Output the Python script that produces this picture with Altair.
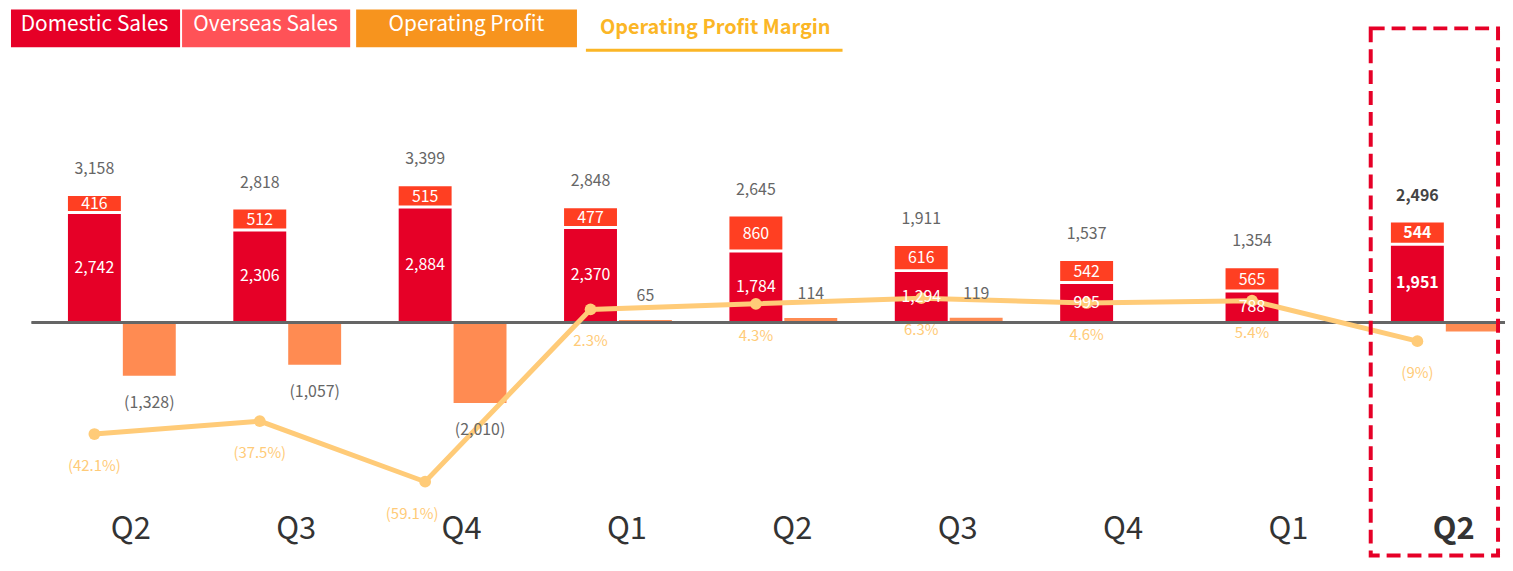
import altair as alt
import pandas as pd

# ---------------- data ----------------
quarters = ["Q2", "Q3", "Q4", "Q1", "Q2", "Q3", "Q4", "Q1", "Q2"]
domestic = [2742, 2306, 2884, 2370, 1784, 1294, 995, 788, 1951]
overseas = [416, 512, 515, 477, 860, 616, 542, 565, 544]
totals = [3158, 2818, 3399, 2848, 2645, 1911, 1537, 1354, 2496]
op_profit = [-1328, -1057, -2010, 65, 114, 119, None, None, -225]
op_labels = ["(1,328)", "(1,057)", "(2,010)", "65", "114", "119", "", "", ""]
margin_pct = [-42.1, -37.5, -59.1, 2.3, 4.3, 6.3, 4.6, 5.4, -9.0]
margin_labels = ["(42.1%)", "(37.5%)", "(59.1%)", "2.3%", "4.3%", "6.3%", "4.6%", "5.4%", "(9%)"]
highlight = [False, False, False, False, False, False, False, False, True]

legend_names = ["Domestic Sales", "Overseas Sales", "Operating Profit", "Operating Profit Margin"]

keys = [f"{i + 1}:{q}" for i, q in enumerate(quarters)]
df = pd.DataFrame({
    "key": keys,
    "domestic": domestic,
    "overseas": overseas,
    "total": totals,
    "op": op_profit,
    "op_label": op_labels,
    "margin": [m / 100 for m in margin_pct],
    "margin_label": margin_labels,
    "hl": highlight,
})
df["dom_mid"] = df["domestic"] / 2
df["ovs_top"] = df["domestic"] + df["overseas"]
df["ovs_mid"] = df["domestic"] + df["overseas"] / 2
df["s"] = "Sales"
df["o"] = "OP"

# ---------------- styles ----------------
FONT = "Noto Sans CJK JP"
C_DOM = "#E60027"
C_OVS = "#FF3F22"
C_OP = "#FF8B52"
C_LINE = "#FFCB78"
C_LEG_OVS = "#FF5257"
C_LEG_OP = "#F7941E"
C_LEG_MARGIN = "#FBB626"

bar_scale = alt.Scale(domain=[-4350, 7809], nice=False, zero=False)
pct_scale = alt.Scale(domain=[-0.645, 1.092], nice=False, zero=False)

x_enc = alt.X(
    "key:N",
    sort=keys,
    title=None,
    scale=alt.Scale(paddingInner=0.348, paddingOuter=0.128, align=0.852, round=False),
    axis=alt.Axis(
        labelExpr="split(datum.value, ':')[1]",
        labelFontSize=31,
        labelFont=FONT,
        labelColor="#333333",
        labelFontWeight=alt.expr("datum.value == '9:Q2' ? 'bold' : 'normal'"),
        labelPadding=18,
        labelOffset=9,
        labelAngle=0,
        domain=False,
        ticks=False,
        grid=False,
    ),
)
off_scale = alt.Scale(domain=["Sales", "OP"], paddingInner=0.036, paddingOuter=0, round=False)
xo_s = alt.XOffset("s:N", scale=off_scale)
xo_o = alt.XOffset("o:N", scale=off_scale)

base = alt.Chart(df)

dom_bars = base.mark_bar(color=C_DOM).encode(
    x=x_enc, xOffset=xo_s,
    y=alt.Y("domestic:Q", scale=bar_scale, axis=None), y2=alt.datum(0),
)
ovs_bars = base.mark_bar(color=C_OVS).encode(
    x=x_enc, xOffset=xo_s,
    y=alt.Y("domestic:Q", scale=bar_scale, axis=None), y2="ovs_top:Q",
)
gap = base.mark_tick(color="white", thickness=3, size=56, opacity=1).encode(
    x=x_enc, xOffset=xo_s,
    y=alt.Y("domestic:Q", scale=bar_scale, axis=None),
)
op_bars = base.transform_filter("isValid(datum.op)").mark_bar(color=C_OP).encode(
    x=x_enc, xOffset=xo_o,
    y=alt.Y("op:Q", scale=bar_scale, axis=None), y2=alt.datum(0),
)
zero_rule = base.mark_rule(color="#666666", strokeWidth=2.5).encode(
    y=alt.Y(datum=0, scale=bar_scale, axis=None)
)

bold_expr = alt.expr("datum.hl ? 'bold' : 'normal'")

total_text = base.mark_text(
    font=FONT, fontSize=16, dy=-27, baseline="middle",
    fontWeight=bold_expr, color=alt.expr("datum.hl ? '#444444' : '#666666'"),
).encode(
    x=x_enc, xOffset=xo_s,
    y=alt.Y("total:Q", scale=bar_scale, axis=None),
    text=alt.Text("total:Q", format=","),
)
dom_text = base.mark_text(
    font=FONT, fontSize=16, baseline="middle", color="white", fontWeight=bold_expr,
).encode(
    x=x_enc, xOffset=xo_s,
    y=alt.Y("dom_mid:Q", scale=bar_scale, axis=None),
    text=alt.Text("domestic:Q", format=","),
)
ovs_text = base.mark_text(
    font=FONT, fontSize=16, baseline="middle", color="white", fontWeight=bold_expr,
).encode(
    x=x_enc, xOffset=xo_s,
    y=alt.Y("ovs_mid:Q", scale=bar_scale, axis=None),
    text=alt.Text("overseas:Q", format=","),
)
op_text = base.transform_filter("datum.op_label != ''").mark_text(
    font=FONT, fontSize=16, baseline="middle", color="#666666",
    dy=alt.expr("datum.op < 0 ? 27 : -24"),
).encode(
    x=x_enc, xOffset=xo_o,
    y=alt.Y("op:Q", scale=bar_scale, axis=None),
    text="op_label:N",
)

margin_line = base.mark_line(color=C_LINE, strokeWidth=5).encode(
    x=x_enc, xOffset=xo_s,
    y=alt.Y("margin:Q", scale=pct_scale, axis=None),
)
margin_pts = base.mark_circle(color=C_LINE, size=140, opacity=1).encode(
    x=x_enc, xOffset=xo_s,
    y=alt.Y("margin:Q", scale=pct_scale, axis=None),
)
margin_text = base.mark_text(
    font=FONT, fontSize=15, baseline="middle", color=C_LINE, dy=32,
    dx=alt.expr("datum.margin < -0.5 ? -13 : 0"),
).encode(
    x=x_enc, xOffset=xo_s,
    y=alt.Y("margin:Q", scale=pct_scale, axis=None),
    text="margin_label:N",
)

# ---------------- custom legend & highlight box ----------------
one = alt.Chart(pd.DataFrame({"n": [0]}))


def leg_box(x0, x1, color, label, cx):
    r = one.mark_rect(color=color).encode(
        x=alt.value(x0), x2=alt.value(x1), y=alt.value(0), y2=alt.value(38)
    )
    t = one.mark_text(font=FONT, fontSize=21, color="white", baseline="middle").encode(
        x=alt.value(cx), y=alt.value(16), text=alt.value(label)
    )
    return [r, t]


legend_layers = []
legend_layers += leg_box(-21, 149, C_DOM, legend_names[0], 63)
legend_layers += leg_box(151, 320, C_LEG_OVS, legend_names[1], 235)
legend_layers += leg_box(326, 548, C_LEG_OP, legend_names[2], 437)
legend_layers.append(
    one.mark_text(font=FONT, fontSize=20, fontWeight="bold", color=C_LEG_MARGIN,
                  baseline="middle").encode(
        x=alt.value(687), y=alt.value(19), text=alt.value(legend_names[3])
    )
)
legend_layers.append(
    one.mark_rule(color=C_LEG_MARGIN, strokeWidth=3).encode(
        x=alt.value(557), x2=alt.value(815), y=alt.value(41)
    )
)

hl_box = one.mark_rect(
    filled=False, stroke=C_DOM, strokeWidth=4, strokeDash=[14, 7]
).encode(x=alt.value(1346), x2=alt.value(1474), y=alt.value(19), y2=alt.value(549))

chart = alt.layer(
    dom_bars, ovs_bars, gap, op_bars, zero_rule,
    margin_line, margin_pts,
    total_text, dom_text, ovs_text, op_text, margin_text,
    hl_box, *legend_layers,
).resolve_scale(y="independent").properties(
    width=1481,
    height=490,
    padding={"left": 24, "top": 0, "right": 0, "bottom": 63},
    autosize=alt.AutoSizeParams(type="none"),
).configure_view(stroke=None)

chart.save("out.html", embed_options={"renderer": "svg", "actions": False})
